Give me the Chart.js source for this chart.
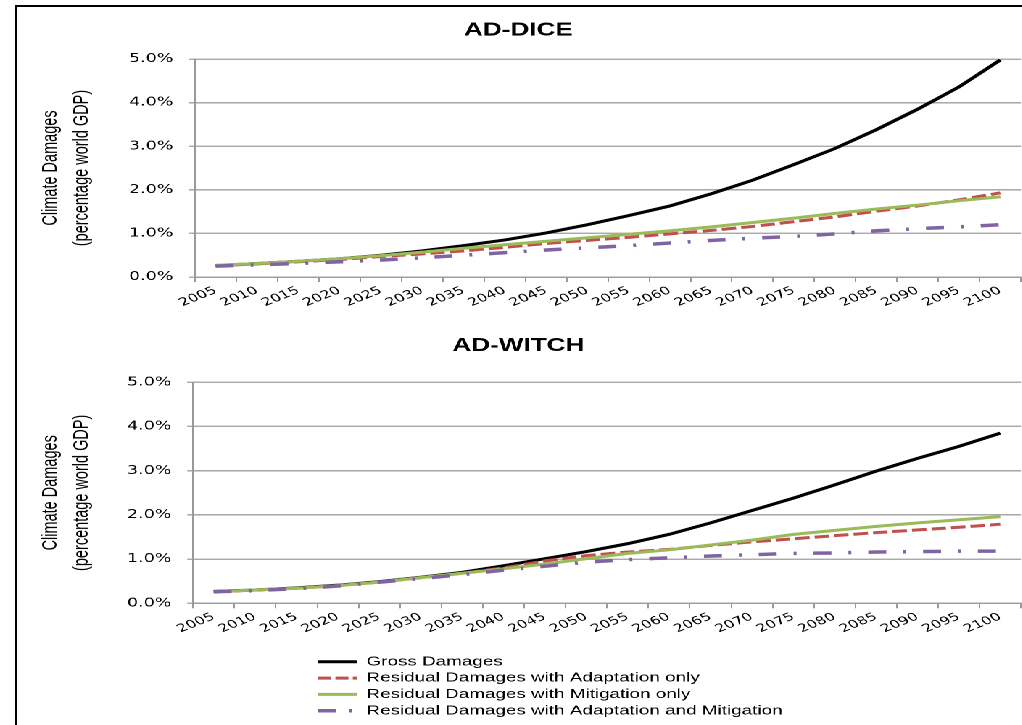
<!DOCTYPE html>
<html>
<head>
<meta charset="utf-8">
<script src="https://cdn.jsdelivr.net/npm/chart.js@4.4.1/dist/chart.umd.min.js"></script>
<style>
  html, body { margin: 0; padding: 0; background: #fff; width: 1022px; height: 725px; overflow: hidden; }
  #frame { position: absolute; left: 15px; top: 5px; width: 1100px; height: 800px; border-left: 2px solid #000; border-top: 2px solid #000; }
  /* the reference picture is stretched sideways, so the charts are drawn narrow and widened */
  #stage { position: absolute; left: 0; top: 0; width: 705px; height: 725px; transform: scaleX(1.45); transform-origin: 0 0; }
  #stage canvas { position: absolute; }
</style>
</head>
<body>
<div id="frame"></div>
<div id="stage">
  <canvas id="chart-dice" width="709" height="320" style="left:11px;top:8px"></canvas>
  <canvas id="chart-witch" width="709" height="330" style="left:11px;top:330px"></canvas>
  <canvas id="chart-legend" width="800" height="73" style="left:216px;top:652px"></canvas>
</div>
<script>
const years = ["2005", "2010", "2015", "2020", "2025", "2030", "2035", "2040", "2045", "2050",
  "2055", "2060", "2065", "2070", "2075", "2080", "2085", "2090", "2095", "2100"];

const seriesNames = [
  "Gross Damages",
  "Residual Damages with Adaptation only",
  "Residual Damages with Mitigation only",
  "Residual Damages with Adaptation and Mitigation",
];

// % of world GDP
const diceGross = [0.26, 0.31, 0.36, 0.42, 0.50, 0.60, 0.72, 0.85, 1.01, 1.20, 1.41, 1.63, 1.91, 2.22, 2.58, 2.95, 3.38, 3.85, 4.36, 4.98];
const diceAdapt = [0.26, 0.30, 0.35, 0.40, 0.47, 0.53, 0.60, 0.68, 0.77, 0.84, 0.91, 0.99, 1.07, 1.16, 1.27, 1.38, 1.51, 1.63, 1.77, 1.93];
const diceMitig = [0.27, 0.31, 0.36, 0.42, 0.49, 0.57, 0.66, 0.74, 0.82, 0.90, 0.98, 1.06, 1.15, 1.25, 1.35, 1.46, 1.56, 1.65, 1.75, 1.84];
const diceBoth  = [0.25, 0.28, 0.31, 0.35, 0.39, 0.44, 0.50, 0.56, 0.62, 0.67, 0.72, 0.78, 0.84, 0.89, 0.93, 0.99, 1.06, 1.11, 1.15, 1.20];

const witchGross = [0.27, 0.30, 0.35, 0.41, 0.49, 0.59, 0.70, 0.85, 1.01, 1.17, 1.35, 1.56, 1.82, 2.10, 2.38, 2.68, 2.99, 3.28, 3.55, 3.85];
const witchAdapt = [0.26, 0.30, 0.34, 0.40, 0.48, 0.58, 0.68, 0.80, 0.96, 1.08, 1.16, 1.22, 1.31, 1.39, 1.46, 1.53, 1.60, 1.66, 1.72, 1.79];
const witchMitig = [0.26, 0.30, 0.34, 0.40, 0.48, 0.58, 0.68, 0.78, 0.89, 1.01, 1.13, 1.21, 1.32, 1.43, 1.56, 1.65, 1.74, 1.82, 1.89, 1.96];
const witchBoth  = [0.26, 0.29, 0.33, 0.39, 0.48, 0.56, 0.65, 0.75, 0.84, 0.93, 0.99, 1.03, 1.07, 1.10, 1.13, 1.14, 1.16, 1.17, 1.18, 1.18];

const yTicks = [0, 1, 2, 3, 4, 5];

const seriesColors = ["#000000", "#C0504D", "#9BBB59", "#8064A2"];
const seriesWidths = [3, 3, 3, 3.5];
const seriesDash = [[], [10, 3.5], [], [12.4, 11.7, 2, 11.7]];
const legendDash = [[], [9, 3], [], [12.4, 9, 2, 20]];

function makeDatasets(series) {
  return series.map((vals, i) => ({
    label: seriesNames[i],
    data: vals,
    borderColor: seriesColors[i],
    backgroundColor: seriesColors[i],
    borderWidth: seriesWidths[i],
    borderDash: seriesDash[i],
    borderCapStyle: "butt",
    pointRadius: 0,
    tension: 0,
    fill: false,
    order: 3 - i, // later series painted over earlier ones
  }));
}

function damageChart(id, title, series, geo) {
  return new Chart(document.getElementById(id), {
    type: "line",
    data: { labels: years, datasets: makeDatasets(series) },
    options: {
      responsive: false,
      animation: false,
      devicePixelRatio: 2,
      layout: { padding: { left: 0, right: geo.padRight, top: 0, bottom: 0 } },
      plugins: {
        legend: { display: false },
        tooltip: { enabled: false },
        title: {
          display: true,
          text: title,
          color: "#000",
          font: { family: "Liberation Sans", size: 18, weight: "bold", lineHeight: 1.2 },
          padding: { top: geo.titleTop, bottom: geo.titleBottom },
        },
      },
      scales: {
        x: {
          offset: true,
          grid: { offset: true, drawOnChartArea: false, drawTicks: true, tickLength: 5, color: "#999" },
          border: { color: "#999", width: 1.2 },
          ticks: {
            color: "#000",
            font: { family: "DejaVu Sans", size: 11 },
            minRotation: 30,
            maxRotation: 30,
            autoSkip: false,
            padding: 2,
          },
          afterFit: (s) => { s.height = geo.xHeight; },
        },
        y: {
          min: 0,
          max: 5,
          afterBuildTicks: (s) => { s.ticks = yTicks.map((v) => ({ value: v })); },
          ticks: {
            color: "#000",
            font: { family: "DejaVu Sans", size: 12 },
            padding: 11,
            callback: (v) => Number(v).toFixed(1) + "%",
          },
          grid: { color: "#aaaaaa", lineWidth: 1.5, tickLength: 4 },
          border: { color: "#999", width: 1.2 },
          title: {
            display: true,
            text: ["Climate Damages", "(percentage world GDP)"],
            color: "#000",
            font: { family: "Liberation Sans", size: 14.5, lineHeight: 1.5 },
            padding: { top: 13, bottom: 0 },
          },
          afterFit: (s) => { s.width = geo.yWidth; },
        },
      },
    },
  });
}

damageChart("chart-dice", "AD-DICE", [diceGross, diceAdapt, diceMitig, diceBoth],
  { padRight: 15.9, titleTop: 11.9, titleBottom: 17.5, yWidth: 123.5, xHeight: 51 });

damageChart("chart-witch", "AD-WITCH", [witchGross, witchAdapt, witchMitig, witchBoth],
  { padRight: 15.9, titleTop: 5.2, titleBottom: 25.5, yWidth: 122.1, xHeight: 56.7 });

// shared legend, one entry per row
new Chart(document.getElementById("chart-legend"), {
  type: "line",
  data: { labels: [], datasets: makeDatasets([[], [], [], []]) },
  options: {
    responsive: false,
    animation: false,
    devicePixelRatio: 2,
    layout: { padding: 0 },
    scales: { x: { display: false }, y: { display: false } },
    plugins: {
      tooltip: { enabled: false },
      legend: {
        position: "left",
        align: "start",
        labels: {
          usePointStyle: true,
          pointStyle: "line",
          pointStyleWidth: 27,
          boxHeight: 13,
          padding: 3.3,
          color: "#000",
          font: { family: "Liberation Sans", size: 13 },
          generateLabels: (chart) => chart.data.datasets.map((ds, i) => ({
            text: ds.label,
            fillStyle: ds.borderColor,
            strokeStyle: ds.borderColor,
            lineWidth: ds.borderWidth,
            lineDash: legendDash[i],
            lineCap: "butt",
            pointStyle: "line",
            fontColor: "#000",
            hidden: false,
            datasetIndex: i,
          })),
        },
      },
    },
  },
});
</script>
</body>
</html>
